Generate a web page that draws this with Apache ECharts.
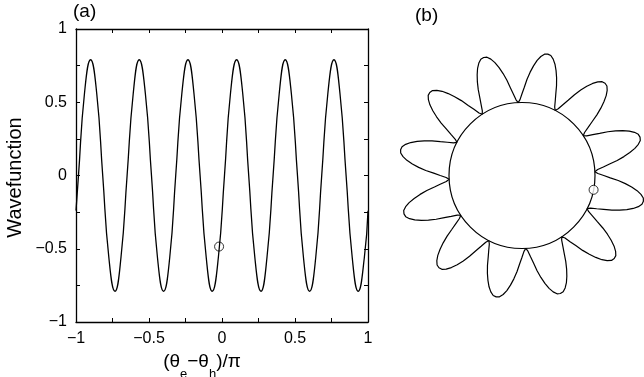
<!DOCTYPE html>
<html>
<head>
<meta charset="utf-8">
<script src="https://cdn.jsdelivr.net/npm/echarts@6/dist/echarts.min.js"></script>
<style>
html,body{margin:0;padding:0;background:#fff;}
#chart{width:644px;height:377px;}
</style>
</head>
<body>
<div id="chart"></div>
<script>
// Panel (a): wavefunction vs (theta_e - theta_h)/pi
var waveX = [-1, -0.983, -0.942, -0.9, -0.858, -0.817, -0.775, -0.733, -0.692, -0.65,
  -0.608, -0.567, -0.525, -0.483, -0.442, -0.4, -0.358, -0.317, -0.275, -0.233,
  -0.192, -0.15, -0.108, -0.067, -0.025, 0.017, 0.058, 0.1, 0.142, 0.183,
  0.225, 0.267, 0.308, 0.35, 0.392, 0.433, 0.475, 0.517, 0.558, 0.6,
  0.642, 0.683, 0.725, 0.767, 0.808, 0.85, 0.892, 0.933, 0.975, 1];
var waveY = [-0.24, 0, 0.56, 0.79, 0.56, 0, -0.56, -0.79, -0.56, 0,
  0.56, 0.79, 0.56, 0, -0.56, -0.79, -0.56, 0, 0.56, 0.79,
  0.56, 0, -0.56, -0.79, -0.56, 0, 0.56, 0.79, 0.56, 0,
  -0.56, -0.79, -0.56, 0, 0.56, 0.79, 0.56, 0, -0.56, -0.79,
  -0.56, 0, 0.56, 0.79, 0.56, 0, -0.56, -0.79, -0.56, -0.24];
var markerA = [-0.02, -0.485];
var tickLabels = {'-1': '\u22121', '-0.5': '\u22120.5', '0': '0', '0.5': '0.5', '1': '1'};

// Panel (b): polar plot, radius relative to the inner circle (=1), angle in degrees
var petalAngle = [
  3, 4.5, 6, 7.5, 9, 10.5, 12, 13.5, 15, 16.5, 18, 19.5, 21, 22.5, 24, 25.5, 27, 28.5, 30, 31.5,
  33, 34.5, 36, 37.5, 39, 40.5, 42, 43.5, 45, 46.5, 48, 49.5, 51, 52.5, 54, 55.5, 57, 58.5, 60, 61.5,
  63, 64.5, 66, 67.5, 69, 70.5, 72, 73.5, 75, 76.5, 78, 79.5, 81, 82.5, 84, 85.5, 87, 88.5, 90, 91.5,
  93, 94.5, 96, 97.5, 99, 100.5, 102, 103.5, 105, 106.5, 108, 109.5, 111, 112.5, 114, 115.5, 117, 118.5, 120, 121.5,
  123, 124.5, 126, 127.5, 129, 130.5, 132, 133.5, 135, 136.5, 138, 139.5, 141, 142.5, 144, 145.5, 147, 148.5, 150, 151.5,
  153, 154.5, 156, 157.5, 159, 160.5, 162, 163.5, 165, 166.5, 168, 169.5, 171, 172.5, 174, 175.5, 177, 178.5, 180, 181.5,
  183, 184.5, 186, 187.5, 189, 190.5, 192, 193.5, 195, 196.5, 198, 199.5, 201, 202.5, 204, 205.5, 207, 208.5, 210, 211.5,
  213, 214.5, 216, 217.5, 219, 220.5, 222, 223.5, 225, 226.5, 228, 229.5, 231, 232.5, 234, 235.5, 237, 238.5, 240, 241.5,
  243, 244.5, 246, 247.5, 249, 250.5, 252, 253.5, 255, 256.5, 258, 259.5, 261, 262.5, 264, 265.5, 267, 268.5, 270, 271.5,
  273, 274.5, 276, 277.5, 279, 280.5, 282, 283.5, 285, 286.5, 288, 289.5, 291, 292.5, 294, 295.5, 297, 298.5, 300, 301.5,
  303, 304.5, 306, 307.5, 309, 310.5, 312, 313.5, 315, 316.5, 318, 319.5, 321, 322.5, 324, 325.5, 327, 328.5, 330, 331.5,
  333, 334.5, 336, 337.5, 339, 340.5, 342, 343.5, 345, 346.5, 348, 349.5, 351, 352.5, 354, 355.5, 357, 358.5, 360, 361.5,
  363];
var petalRadius = [
  1, 1.04, 1.12, 1.21, 1.32, 1.42, 1.51, 1.59, 1.65, 1.69, 1.70, 1.69, 1.65, 1.59, 1.51, 1.42, 1.32, 1.21, 1.12, 1.04,
  1, 1.04, 1.12, 1.21, 1.32, 1.42, 1.51, 1.59, 1.65, 1.69, 1.70, 1.69, 1.65, 1.59, 1.51, 1.42, 1.32, 1.21, 1.12, 1.04,
  1, 1.04, 1.12, 1.21, 1.32, 1.42, 1.51, 1.59, 1.65, 1.69, 1.70, 1.69, 1.65, 1.59, 1.51, 1.42, 1.32, 1.21, 1.12, 1.04,
  1, 1.04, 1.12, 1.21, 1.32, 1.42, 1.51, 1.59, 1.65, 1.69, 1.70, 1.69, 1.65, 1.59, 1.51, 1.42, 1.32, 1.21, 1.12, 1.04,
  1, 1.04, 1.12, 1.21, 1.32, 1.42, 1.51, 1.59, 1.65, 1.69, 1.70, 1.69, 1.65, 1.59, 1.51, 1.42, 1.32, 1.21, 1.12, 1.04,
  1, 1.04, 1.12, 1.21, 1.32, 1.42, 1.51, 1.59, 1.65, 1.69, 1.70, 1.69, 1.65, 1.59, 1.51, 1.42, 1.32, 1.21, 1.12, 1.04,
  1, 1.04, 1.12, 1.21, 1.32, 1.42, 1.51, 1.59, 1.65, 1.69, 1.70, 1.69, 1.65, 1.59, 1.51, 1.42, 1.32, 1.21, 1.12, 1.04,
  1, 1.04, 1.12, 1.21, 1.32, 1.42, 1.51, 1.59, 1.65, 1.69, 1.70, 1.69, 1.65, 1.59, 1.51, 1.42, 1.32, 1.21, 1.12, 1.04,
  1, 1.04, 1.12, 1.21, 1.32, 1.42, 1.51, 1.59, 1.65, 1.69, 1.70, 1.69, 1.65, 1.59, 1.51, 1.42, 1.32, 1.21, 1.12, 1.04,
  1, 1.04, 1.12, 1.21, 1.32, 1.42, 1.51, 1.59, 1.65, 1.69, 1.70, 1.69, 1.65, 1.59, 1.51, 1.42, 1.32, 1.21, 1.12, 1.04,
  1, 1.04, 1.12, 1.21, 1.32, 1.42, 1.51, 1.59, 1.65, 1.69, 1.70, 1.69, 1.65, 1.59, 1.51, 1.42, 1.32, 1.21, 1.12, 1.04,
  1, 1.04, 1.12, 1.21, 1.32, 1.42, 1.51, 1.59, 1.65, 1.69, 1.70, 1.69, 1.65, 1.59, 1.51, 1.42, 1.32, 1.21, 1.12, 1.04,
  1];
var markerB = [1, 348.7];
var innerRadius = 1;
var outerRadius = 1.8;

var FONT = 'Liberation Sans';
var chart = echarts.init(document.getElementById('chart'), null, {renderer: 'canvas'});

function tickFmt(v) {
  var k = Math.round(v * 2) / 2;
  if (Math.abs(v - k) > 1e-6) return '';
  return tickLabels[String(k)] !== undefined ? tickLabels[String(k)] : String(k);
}

var axisLineStyle = {color: '#000', width: 1.3};
function baseAxis(extra) {
  var a = {
    type: 'value', min: -1, max: 1, interval: 0.25,
    axisLine: {show: true, onZero: false, lineStyle: axisLineStyle},
    axisTick: {show: true, inside: true, length: 4, lineStyle: {color: '#000', width: 1}},
    splitLine: {show: false},
    axisLabel: {show: false}
  };
  for (var k in extra) a[k] = extra[k];
  return a;
}

var R_PX = 73;
var CENTER = [522, 175.5];

var option = {
  backgroundColor: '#fff',
  animation: false,
  grid: {left: 76, top: 29, width: 292, height: 293, containLabel: false, outerBoundsMode: 'none'},
  xAxis: [
    baseAxis({
      position: 'bottom',
      axisLabel: {show: true, margin: 9, color: '#000', fontFamily: FONT, fontSize: 16, formatter: tickFmt},
      name: '{m|(\u03b8}{s|e}{m|\u2212\u03b8}{s|h}{m|)/\u03c0}',
      nameLocation: 'middle', nameGap: 30, nameMoveOverlap: false,
      nameTextStyle: {
        color: '#000', fontFamily: FONT, fontSize: 19,
        padding: [0, 40, 0, 0],
        verticalAlign: 'top',
        rich: {
          m: {fontSize: 19, fontFamily: FONT, color: '#000', verticalAlign: 'top', lineHeight: 19},
          s: {fontSize: 13, fontFamily: FONT, color: '#000', verticalAlign: 'middle', lineHeight: 44}
        }
      }
    }),
    baseAxis({position: 'top'})
  ],
  yAxis: [
    baseAxis({
      position: 'left',
      axisLabel: {show: true, margin: 9, color: '#000', fontFamily: FONT, fontSize: 16, formatter: tickFmt},
      name: 'Wavefunction', nameLocation: 'middle', nameRotate: 90, nameGap: 51, nameMoveOverlap: false,
      nameTextStyle: {color: '#000', fontFamily: FONT, fontSize: 20, padding: [0, 4, 0, 0]}
    }),
    baseAxis({position: 'right'})
  ],
  polar: [
    {center: CENTER, radius: R_PX * innerRadius},
    {center: CENTER, radius: R_PX * outerRadius}
  ],
  radiusAxis: [
    {polarIndex: 0, type: 'value', min: 0, max: innerRadius, show: false},
    {polarIndex: 1, type: 'value', min: 0, max: outerRadius, show: false}
  ],
  angleAxis: [
    {
      polarIndex: 0, type: 'value', min: 0, max: 360, startAngle: 0, clockwise: false,
      axisLine: {show: true, lineStyle: {color: '#000', width: 1.2}},
      axisTick: {show: false}, axisLabel: {show: false}, splitLine: {show: false}
    },
    {
      polarIndex: 1, type: 'value', min: 0, max: 360, startAngle: 0, clockwise: false,
      axisLine: {show: false}, axisTick: {show: false}, axisLabel: {show: false}, splitLine: {show: false}
    }
  ],
  graphic: [
    {type: 'text', left: 73, top: 2, style: {text: '(a)', fontFamily: FONT, fontSize: 19, fill: '#000'}},
    {type: 'text', left: 415, top: 6, style: {text: '(b)', fontFamily: FONT, fontSize: 19, fill: '#000'}}
  ],
  series: [
    {
      type: 'line', xAxisIndex: 0, yAxisIndex: 0,
      data: waveX.map(function (x, i) { return [x, waveY[i]]; }),
      smooth: true, showSymbol: false, clip: true,
      lineStyle: {color: '#000', width: 1.3}
    },
    {
      type: 'scatter', xAxisIndex: 0, yAxisIndex: 0,
      data: [markerA], symbol: 'circle', symbolSize: 9,
      itemStyle: {color: '#fff', borderColor: '#000', borderWidth: 1}
    },
    {
      type: 'line', coordinateSystem: 'polar', polarIndex: 1,
      data: petalAngle.map(function (a, i) { return [petalRadius[i], a]; }),
      showSymbol: false, smooth: false,
      lineStyle: {color: '#000', width: 1.2}
    },
    {
      type: 'scatter', coordinateSystem: 'polar', polarIndex: 0,
      data: [markerB], symbol: 'circle', symbolSize: 9, z: 5,
      itemStyle: {color: '#fff', borderColor: '#000', borderWidth: 1}
    }
  ]
};
chart.setOption(option);
</script>
</body>
</html>
